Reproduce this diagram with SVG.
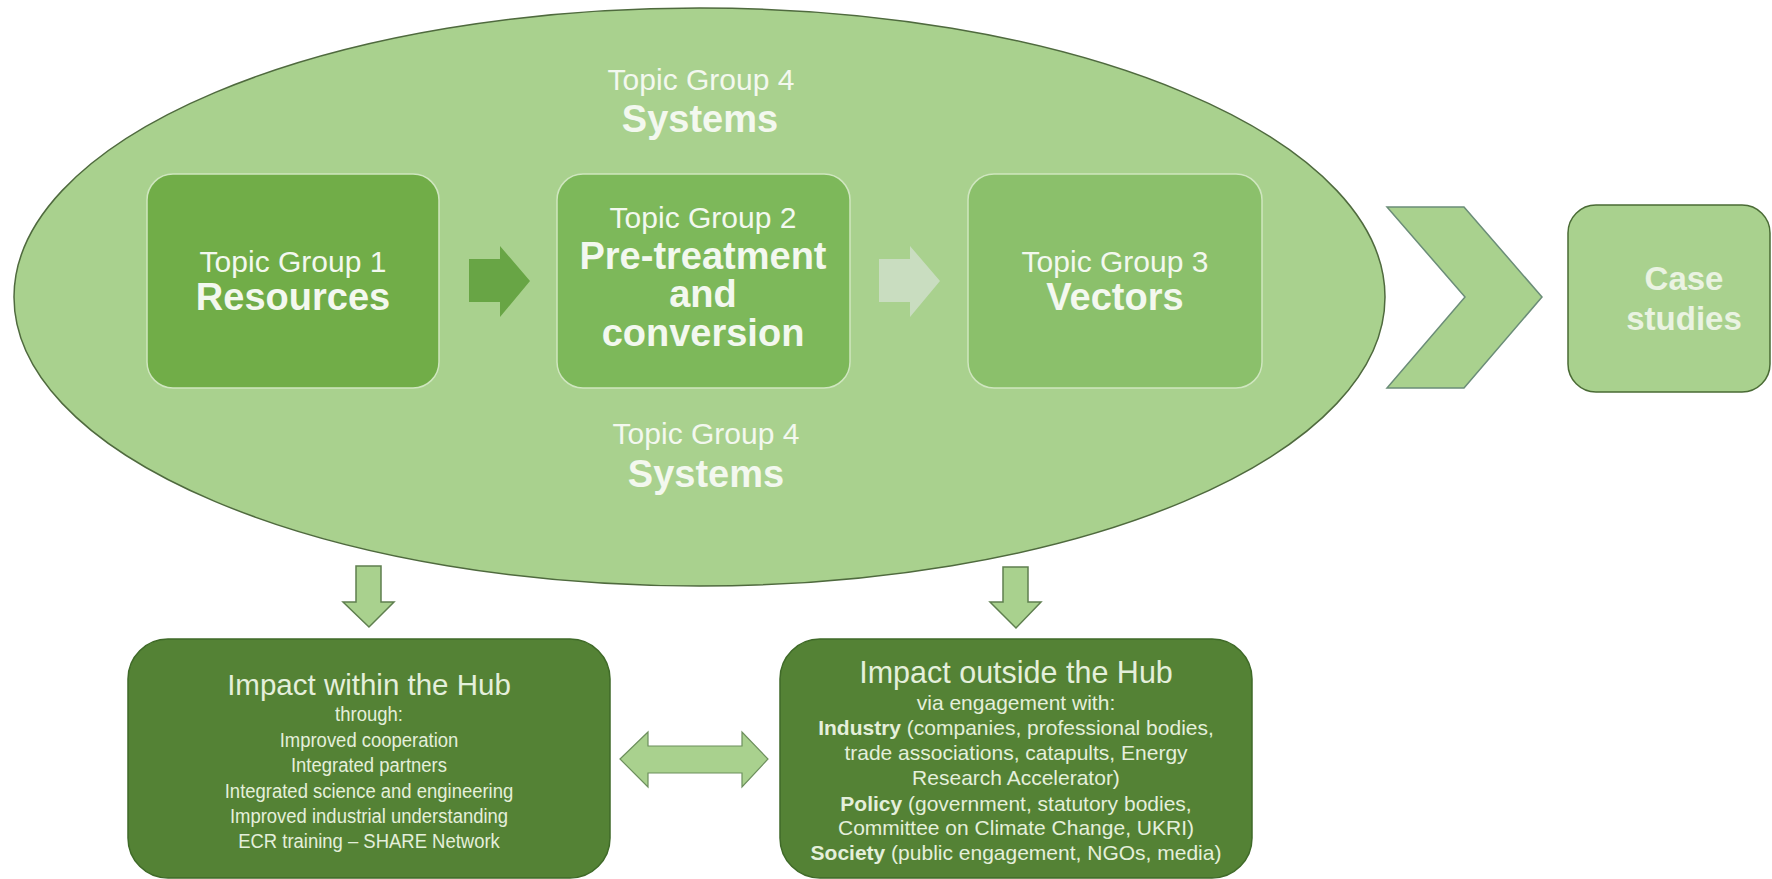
<svg xmlns="http://www.w3.org/2000/svg" width="1772" height="879" viewBox="0 0 1772 879">
<style>
.t{font-family:"Liberation Sans",Arial,sans-serif;text-anchor:middle;fill:#f3f8ef}
.tg{font-size:30px}
.b{font-size:38px;font-weight:bold}
.cs{font-size:33px;font-weight:bold;fill:#eaf3e2}
.h{font-size:29.5px;fill:#e4efdb}
.s{font-size:21px;fill:#e4efdb}
.bold{font-weight:bold}
.light{fill:#a9d18e}
.inner{stroke:#cfe6bf;stroke-width:1.5}
.dark{fill:#548235;stroke:#3f6a28;stroke-width:1.5}
</style>
<rect width="1772" height="879" fill="#ffffff"/>
<g id="systems-ellipse">
<ellipse cx="699.5" cy="297" rx="685.5" ry="289" class="light" stroke="#4f6a3e" stroke-width="1.5"/>
<text class="t tg" x="701" y="90">Topic Group 4</text>
<text class="t b" x="700" y="132">Systems</text>
<text class="t tg" x="706" y="444">Topic Group 4</text>
<text class="t b" x="706" y="487">Systems</text>
</g>
<g id="tg1">
<rect x="147" y="174" width="292" height="214" rx="26" fill="#71ad48" class="inner"/>
<text class="t tg" x="293" y="272">Topic Group 1</text>
<text class="t b" x="293" y="310">Resources</text>
</g>
<g id="tg2">
<rect x="557" y="174" width="293" height="214" rx="26" fill="#7db85a" class="inner"/>
<text class="t tg" x="703" y="228">Topic Group 2</text>
<text class="t b" x="703" y="269">Pre-treatment</text>
<text class="t b" x="703" y="307">and</text>
<text class="t b" x="703" y="346">conversion</text>
</g>
<g id="tg3">
<rect x="968" y="174" width="294" height="214" rx="26" fill="#8bc06b" class="inner"/>
<text class="t tg" x="1115" y="272">Topic Group 3</text>
<text class="t b" x="1115" y="310">Vectors</text>
</g>
<g id="case-studies">
<rect x="1568" y="205" width="202" height="187" rx="28" class="light" stroke="#4a6b35" stroke-width="1.5"/>
<text class="t cs" x="1684" y="290">Case</text>
<text class="t cs" x="1684" y="330">studies</text>
</g>
<g id="impact-within">
<rect x="128" y="639" width="482" height="239" rx="40" class="dark"/>
<text class="t h" x="369" y="695">Impact within the Hub</text>
<g transform="translate(369 0) scale(0.88 1) translate(-369 0)">
<text class="t s" x="369" y="721">through:</text>
<text class="t s" x="369" y="747">Improved cooperation</text>
<text class="t s" x="369" y="772">Integrated partners</text>
<text class="t s" x="369" y="798">Integrated science and engineering</text>
<text class="t s" x="369" y="823">Improved industrial understanding</text>
<text class="t s" x="369" y="848">ECR training – SHARE Network</text>
</g>
</g>
<g id="impact-outside">
<rect x="780" y="639" width="472" height="239" rx="40" class="dark"/>
<text class="t h" x="1016" y="683" style="font-size:30.5px">Impact outside the Hub</text>
<text class="t s" x="1016" y="710">via engagement with:</text>
<text class="t s" x="1016" y="735"><tspan class="bold">Industry</tspan> (companies, professional bodies,</text>
<text class="t s" x="1016" y="760">trade associations, catapults, Energy</text>
<text class="t s" x="1016" y="785">Research Accelerator)</text>
<text class="t s" x="1016" y="811"><tspan class="bold">Policy</tspan> (government, statutory bodies,</text>
<text class="t s" x="1016" y="835">Committee on Climate Change, UKRI)</text>
<text class="t s" x="1016" y="860"><tspan class="bold">Society</tspan> (public engagement, NGOs, media)</text>
</g>
<g id="connectors">
<polygon points="469,259 500,259 500,246 530,281 500,317 500,302 469,302" fill="#68a545"/>
<polygon points="879,259 910,259 910,246 940,281 910,317 910,302 879,302" fill="#c9ddc0"/>
<polygon points="1387,207 1464,207 1542,297 1464,388 1387,388 1465,297" class="light" stroke="#6b8d78" stroke-width="1.5"/>
<polygon points="356,566 381,566 381,602 394,602 369,627 343,602 356,602" class="light" stroke="#5f7f4f" stroke-width="1.5"/>
<polygon points="1003,567 1028,567 1028,602 1041,602 1016,628 990,602 1003,602" class="light" stroke="#5f7f4f" stroke-width="1.5"/>
<polygon points="620,759 648,732 648,746 742,746 742,732 768,759 742,787 742,773 648,773 648,787" class="light" stroke="#6d8f5d" stroke-width="1.2"/>
</g>
</svg>
